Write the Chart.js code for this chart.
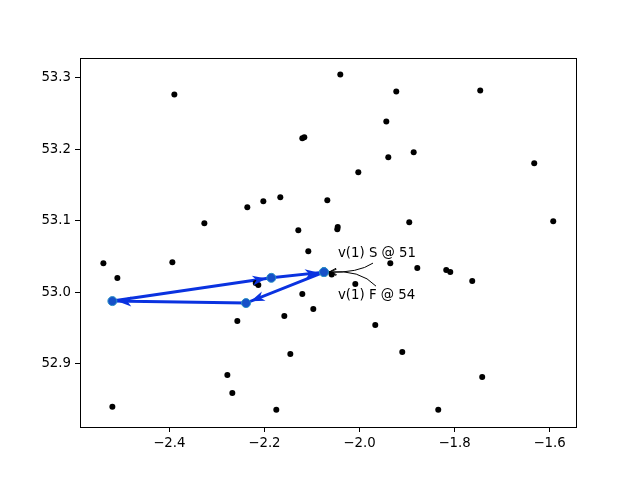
<!DOCTYPE html>
<html>
<head>
<meta charset="utf-8">
<script src="https://cdn.jsdelivr.net/npm/chart.js@4/dist/chart.umd.min.js"></script>
<style>
  body { margin: 0; background: #fff; }
  #wrap { width: 640px; height: 480px; }
</style>
</head>
<body>
<div id="wrap"><canvas id="routeChart" width="640" height="480"></canvas></div>
<script>
// Stop positions (lon / lat)
const stopLon = [-2.5388, -2.5094, -2.3895, -2.3937, -2.3264, -2.5199, -2.2780, -2.2675, -2.2360, -2.2023,
                 -2.1666, -2.2183, -2.2128, -2.2570, -2.1750, -2.1581, -2.1455, -2.1287, -2.1203, -2.1161,
                 -2.1077, -2.1203, -2.0972, -2.0677, -2.0585, -2.0458, -2.0467, -2.0404, -2.0088, -2.0025,
                 -1.9668, -1.9436, -1.9394, -1.9352, -1.9226, -1.9100, -1.8953, -1.8860, -1.8784, -1.8343,
                 -1.8175, -1.8090, -1.7628, -1.7460, -1.7418, -1.6324, -1.5924];
const stopLat = [53.0406, 53.0196, 53.2769, 53.0420, 53.0965, 52.8392, 52.8839, 52.8587, 53.1189, 53.1273,
                 53.1329, 53.0126, 53.0098, 52.9594, 52.8350, 52.9664, 52.9133, 53.0867, 53.2154, 53.2168,
                 53.0573, 52.9972, 52.9762, 53.1287, 53.0246, 53.0913, 53.0881, 53.3049, 53.0112, 53.1678,
                 52.9538, 53.2392, 53.1888, 53.0406, 53.2811, 52.9161, 53.0979, 53.1958, 53.0336, 52.8350,
                 53.0308, 53.0280, 53.0154, 53.2825, 52.8811, 53.1804, 53.0993];

// Vehicle 1 route, start and finish at the same depot
const routeLon = [-2.0747, -2.2387, -2.5199, -2.1855, -2.0747];
const routeLat = [53.0280, 52.9846, 52.9874, 53.0200, 53.0280];
const startLabel = 'v(1) S @ 51';
const finishLabel = 'v(1) F @ 54';

const xTicks = [-2.4, -2.2, -2.0, -1.8, -1.6];
const yTicks = [52.9, 53.0, 53.1, 53.2, 53.3];

const FONT = "'DejaVu Sans', sans-serif";
const BLUE = '#0a32e0';

const toXY = (xs, ys) => xs.map((x, i) => ({ x: x, y: ys[i] }));
const minus = v => v.toFixed(1).replace('-', '\u2212');

// arrowheads on route + depot annotations + frame
const routeExtras = {
    id: 'routeExtras',
    afterDatasetsDraw(chart) {
        const c = chart.ctx, xs = chart.scales.x, ys = chart.scales.y;
        const px = routeLon.map(v => xs.getPixelForValue(v));
        const py = routeLat.map(v => ys.getPixelForValue(v));
        c.save();
        c.fillStyle = BLUE;
        for (let i = 0; i < px.length - 1; i++) {
            const dx = px[i + 1] - px[i], dy = py[i + 1] - py[i];
            const len = Math.hypot(dx, dy);
            const ux = dx / len, uy = dy / len, nx = -uy, ny = ux;
            const tx = px[i + 1] - ux * 5, ty = py[i + 1] - uy * 5;
            const bx = tx - ux * 14, by = ty - uy * 14;
            const mx = tx - ux * 10, my = ty - uy * 10;
            c.beginPath();
            c.moveTo(tx, ty);
            c.lineTo(bx + nx * 5, by + ny * 5);
            c.lineTo(mx, my);
            c.lineTo(bx - nx * 5, by - ny * 5);
            c.closePath();
            c.fill();
        }

        // depot labels
        const dX = px[0], dY = py[0];
        c.fillStyle = '#000';
        c.font = '13.3px ' + FONT;
        c.textAlign = 'left';
        c.textBaseline = 'middle';
        c.fillText(startLabel, dX + 14, dY - 19);
        c.fillText(finishLabel, dX + 14, dY + 23);

        c.strokeStyle = '#000';
        c.lineWidth = 1;
        const curves = [
            [dX + 49, dY - 9, dX + 34, dY + 1],
            [dX + 52, dY + 14, dX + 36, dY - 3]
        ];
        const ex = dX + 5, ey = dY;
        curves.forEach(([sx, sy, cx, cy]) => {
            c.beginPath();
            c.moveTo(sx, sy);
            c.quadraticCurveTo(cx, cy, ex, ey);
            c.stroke();
            const a = Math.atan2(ey - cy, ex - cx);
            c.beginPath();
            c.moveTo(ex - 8 * Math.cos(a - 0.4), ey - 8 * Math.sin(a - 0.4));
            c.lineTo(ex, ey);
            c.lineTo(ex - 8 * Math.cos(a + 0.4), ey - 8 * Math.sin(a + 0.4));
            c.stroke();
        });

        const ca = chart.chartArea;
        c.strokeRect(Math.round(ca.left) + 0.5, Math.round(ca.top) + 0.5,
                     Math.round(ca.right - ca.left), Math.round(ca.bottom - ca.top));
        c.restore();
    }
};

new Chart(document.getElementById('routeChart'), {
    type: 'scatter',
    data: {
        datasets: [{
            label: 'stops',
            data: toXY(stopLon, stopLat),
            backgroundColor: '#000',
            borderWidth: 0,
            pointRadius: 3,
            order: 0
        }, {
            label: 'nodes',
            data: toXY(routeLon, routeLat),
            backgroundColor: '#1650c8',
            borderColor: '#2a90c4',
            borderWidth: 1,
            pointRadius: 4.5,
            order: 1
        }, {
            label: 'route',
            data: toXY(routeLon, routeLat),
            showLine: true,
            borderColor: BLUE,
            borderWidth: 3,
            pointRadius: 0,
            order: 2
        }]
    },
    options: {
        responsive: false,
        animation: false,
        layout: { padding: { top: 58, right: 64, left: 0, bottom: 0 } },
        plugins: { legend: { display: false }, tooltip: { enabled: false } },
        scales: {
            x: {
                type: 'linear',
                min: -2.588, max: -1.5445,
                afterFit: s => { s.height = 53; },
                afterBuildTicks: s => { s.ticks = xTicks.map(v => ({ value: v })); },
                grid: { drawOnChartArea: false, tickLength: 5, color: '#000' },
                border: { display: false },
                ticks: { color: '#000', padding: 4, font: { family: FONT, size: 13.3 },
                         maxRotation: 0, callback: v => minus(v) }
            },
            y: {
                type: 'linear',
                min: 52.811, max: 53.328,
                afterFit: s => { s.width = 80; },
                afterBuildTicks: s => { s.ticks = yTicks.map(v => ({ value: v })); },
                grid: { drawOnChartArea: false, tickLength: 5, color: '#000' },
                border: { display: false },
                ticks: { color: '#000', padding: 4, font: { family: FONT, size: 13.3 },
                         callback: v => minus(v) }
            }
        }
    },
    plugins: [routeExtras]
});
</script>
</body>
</html>
